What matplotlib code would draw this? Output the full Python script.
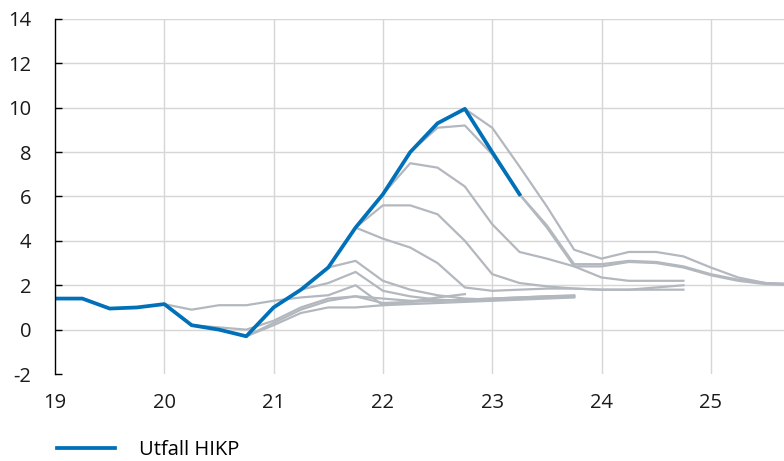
import numpy as np
import matplotlib
matplotlib.use("Agg")
import matplotlib.pyplot as plt

plt.rcParams['font.family'] = ['Open Sans', 'DejaVu Sans']

# outcome HICP, quarterly from 2019Q1 (x in years, 19 = 2019)
utfall_start = 19.0
utfall = [1.4, 1.4, 0.95, 1.0, 1.15, 0.2, 0.0, -0.3, 1.0, 1.8, 2.8, 4.6,
          6.1, 8.0, 9.3, 9.95, 8.0, 6.1]

# earlier forecasts: (start year, quarterly values)
forecasts = [
    (20.0, [1.15, 0.9, 1.1, 1.1, 1.3, 1.45, 1.55, 2.0, 1.1, 1.25, 1.45, 1.6]),
    (20.25, [0.2, 0.1, 0.0, 0.4, 1.0, 1.4, 1.5, 1.2, 1.25, 1.3, 1.35, 1.4, 1.45, 1.5, 1.55]),
    (20.75, [-0.3, 0.3, 0.9, 1.3, 1.5, 1.4, 1.3, 1.3, 1.35, 1.4, 1.45, 1.5, 1.5]),
    (20.75, [-0.3, 0.2, 0.75, 1.0, 1.0, 1.1, 1.15, 1.2, 1.25, 1.3, 1.35, 1.4, 1.45]),
    (21.25, [1.8, 2.1, 2.6, 1.75, 1.5, 1.35, 1.3, 1.35, 1.4, 1.45, 1.5]),
    (21.5, [2.8, 3.1, 2.2, 1.8, 1.55, 1.4, 1.35, 1.4, 1.45, 1.5]),
    (21.75, [4.6, 5.6, 5.6, 5.2, 4.0, 2.5, 2.1, 1.95, 1.85, 1.8, 1.8, 1.9, 2.0]),
    (21.75, [4.6, 4.1, 3.7, 3.0, 1.9, 1.75, 1.8, 1.85, 1.85, 1.8, 1.8, 1.8, 1.8]),
    (22.0, [6.1, 7.5, 7.3, 6.45, 4.75, 3.5, 3.2, 2.85, 2.35, 2.2, 2.2, 2.2]),
    (22.25, [8.0, 9.1, 9.2, 7.9, 6.1, 4.7, 2.95, 2.95, 3.1, 3.05, 2.85, 2.5, 2.25, 2.1, 2.05]),
    (22.75, [9.95, 9.1, 7.35, 5.55, 3.6, 3.2, 3.5, 3.5, 3.3, 2.8, 2.35, 2.1, 2.05]),
    (23.0, [8.0, 6.1, 4.6, 2.85, 2.85, 3.05, 3.0, 2.8, 2.45, 2.2, 2.05, 2.0]),
]

yticks = [-2, 0, 2, 4, 6, 8, 10, 12, 14]
xticks = [19, 20, 21, 22, 23, 24, 25]

blue = '#0070b8'
grey = '#b3b8bf'

fig = plt.figure(figsize=(7.84, 4.61), dpi=100)
ax = fig.add_axes([55/784, 87/461, 729/784, 355/461])

for start, vals in forecasts:
    xs = start + 0.25*np.arange(len(vals))
    ax.plot(xs, vals, color=grey, lw=1.6, zorder=2)

xs = utfall_start + 0.25*np.arange(len(utfall))
ax.plot(xs, utfall, color=blue, lw=2.7, zorder=3, label='Utfall HIKP')

ax.set_xlim(19, 19 + 729/109.3)
ax.set_ylim(-2, 14)
ax.set_yticks(yticks)
ax.set_xticks(xticks)
ax.set_yticklabels([str(t) for t in yticks])
ax.set_xticklabels([str(t) for t in xticks])

for s in ['top', 'right', 'bottom']:
    ax.spines[s].set_visible(False)
ax.spines['left'].set_color('black')
ax.spines['left'].set_linewidth(1.0)
ax.spines['left'].set_zorder(4)

for t in yticks[1:]:
    ax.axhline(t, color='#d6d6d6', lw=1.0, zorder=1)
for t in xticks[1:]:
    ax.axvline(t, color='#d6d6d6', lw=1.0, zorder=1)

ax.tick_params(axis='y', direction='in', length=5, width=1, color='black',
               labelsize=14.5, pad=17)
ax.tick_params(axis='x', length=0, labelsize=14.5, pad=14)
for lab in ax.get_yticklabels() + ax.get_xticklabels():
    lab.set_color('#1a1a1a')

fig.legend(loc='center left', bbox_to_anchor=(57/784, 1 - 450/461),
           frameon=False, fontsize=14.5, handlelength=2.9, handletextpad=1.15,
           borderpad=0, borderaxespad=0)

fig.savefig('out.png', dpi=100)
